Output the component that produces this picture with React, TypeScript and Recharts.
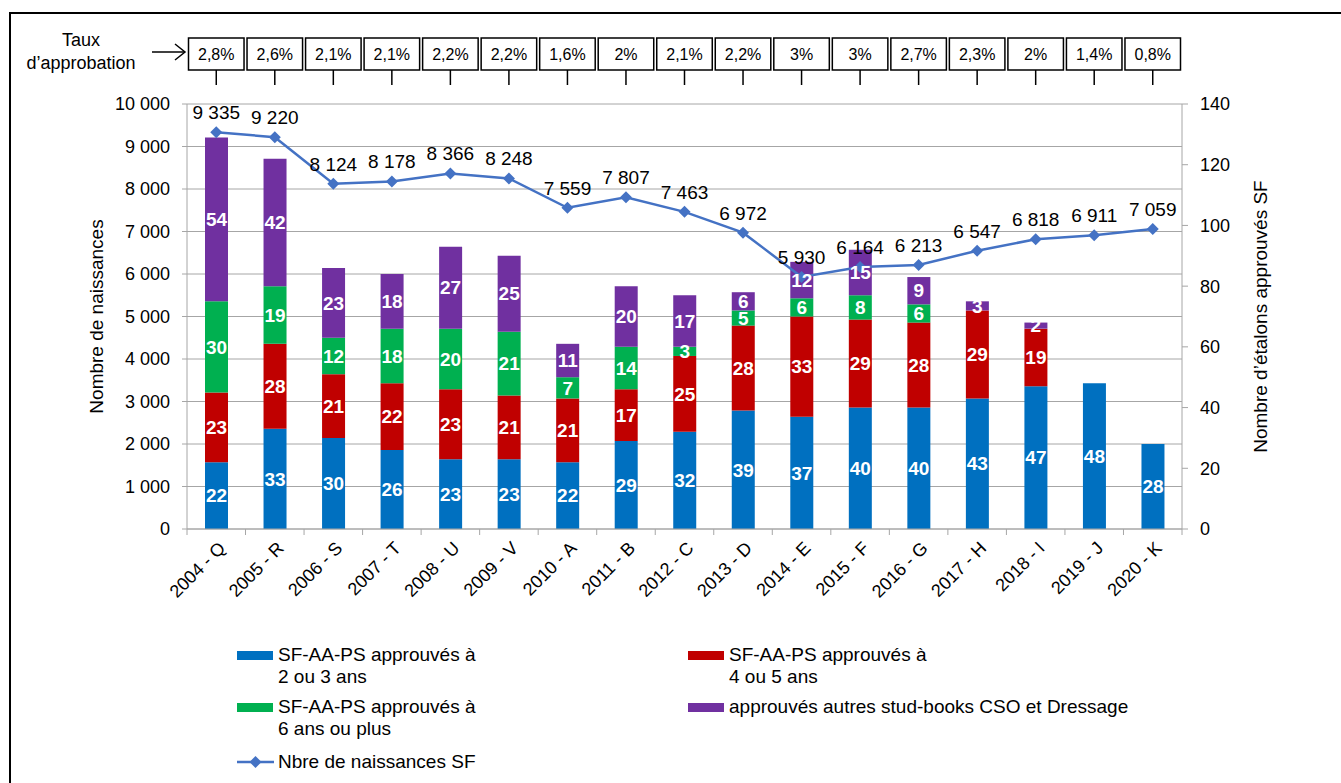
import {
  ComposedChart,
  Bar,
  Line,
  XAxis,
  YAxis,
  CartesianGrid,
  LabelList,
} from "recharts";

const categories = [
  "2004 - Q", "2005 - R", "2006 - S", "2007 - T", "2008 - U", "2009 - V",
  "2010 - A", "2011 - B", "2012 - C", "2013 - D", "2014 - E", "2015 - F",
  "2016 - G", "2017 - H", "2018 - I", "2019 - J", "2020 - K",
];
const tauxApprobation = [
  "2,8%", "2,6%", "2,1%", "2,1%", "2,2%", "2,2%", "1,6%", "2%", "2,1%",
  "2,2%", "3%", "3%", "2,7%", "2,3%", "2%", "1,4%", "0,8%",
];
const naissances = [
  9335, 9220, 8124, 8178, 8366, 8248, 7559, 7807, 7463, 6972, 5930, 6164,
  6213, 6547, 6818, 6911, 7059,
];
const approuves2ou3 = [22, 33, 30, 26, 23, 23, 22, 29, 32, 39, 37, 40, 40, 43, 47, 48, 28];
const approuves4ou5 = [23, 28, 21, 22, 23, 21, 21, 17, 25, 28, 33, 29, 28, 29, 19, 0, 0];
const approuves6plus = [30, 19, 12, 18, 20, 21, 7, 14, 3, 5, 6, 8, 6, 0, 0, 0, 0];
const autresStudBooks = [54, 42, 23, 18, 27, 25, 11, 20, 17, 6, 12, 15, 9, 3, 2, 0, 0];

const leftTicks = [0, 1000, 2000, 3000, 4000, 5000, 6000, 7000, 8000, 9000, 10000];
const rightTicks = [0, 20, 40, 60, 80, 100, 120, 140];

const data = categories.map((cat, i) => ({
  cat,
  naissances: naissances[i],
  a23: approuves2ou3[i],
  a45: approuves4ou5[i],
  a6: approuves6plus[i],
  autres: autresStudBooks[i],
}));

const BLUE = "#0070C0";
const RED = "#C00000";
const GREEN = "#00B050";
const PURPLE = "#7030A0";
const LINE = "#4472C4";
const GRID = "#A6A6A6";
const FONT = "'Liberation Sans', Arial, sans-serif";

const fmt = (v: number) => String(v).replace(/\B(?=(\d{3})+(?!\d))/g, " ");
const hideZero = (v: any) => (v ? v : "");

// boite du taux d'approbation au-dessus de chaque annee
const TopTick = (props: any) => {
  const { x, y, payload } = props;
  const half = payload?.offset || 29;
  const w = half * 2 - 3;
  return (
    <g>
      <rect x={x - w / 2} y={y - 32} width={w} height={32} fill="#fff" stroke="#000" strokeWidth={1.5} />
      <line x1={x} x2={x} y1={y} y2={y + 15} stroke="#000" strokeWidth={1.5} />
      <text x={x} y={y - 16} textAnchor="middle" dominantBaseline="central" fontSize={16} fill="#000">
        {tauxApprobation[payload.index]}
      </text>
    </g>
  );
};

const BottomTick = (props: any) => {
  const { x, y, payload } = props;
  const half = payload?.offset || 29;
  const axisY = y - 2;
  const last = payload.index === categories.length - 1;
  return (
    <g>
      <line x1={x - half} x2={x - half} y1={axisY} y2={axisY + 6} stroke={GRID} />
      {last && <line x1={x + half} x2={x + half} y1={axisY} y2={axisY + 6} stroke={GRID} />}
      <text
        x={x + 6}
        y={y + 14}
        transform={`rotate(-45, ${x + 6}, ${y + 14})`}
        textAnchor="end"
        dominantBaseline="central"
        fontSize={18}
        fill="#000"
      >
        {payload.value}
      </text>
    </g>
  );
};

const Diamond = (props: any) => {
  const { cx, cy } = props;
  if (cx == null || cy == null) return null;
  return <path d={`M${cx},${cy - 6}L${cx + 6},${cy}L${cx},${cy + 6}L${cx - 6},${cy}Z`} fill={LINE} />;
};

const axisTitle = (text: string, dx: number) => (p: any) => {
  const vb = p.viewBox;
  const cx = vb.x + dx;
  const cy = vb.y + vb.height / 2;
  return (
    <text x={cx} y={cy} transform={`rotate(-90, ${cx}, ${cy})`} textAnchor="middle" dominantBaseline="central" fontSize={19} fill="#000">
      {text}
    </text>
  );
};

const legendItems = [
  { color: BLUE, lines: ["SF-AA-PS approuvés à", "2 ou 3 ans"], left: 237, top: 644 },
  { color: RED, lines: ["SF-AA-PS approuvés à", "4 ou 5 ans"], left: 688, top: 644 },
  { color: GREEN, lines: ["SF-AA-PS approuvés à", "6 ans ou plus"], left: 237, top: 696 },
  { color: PURPLE, lines: ["approuvés autres stud-books CSO et Dressage"], left: 688, top: 696 },
];

export default function App() {
  return (
    <div
      style={{
        position: "absolute",
        left: 0,
        top: 0,
        width: 1341,
        height: 783,
        overflow: "hidden",
        background: "#fff",
        fontFamily: FONT,
      }}
    >
      <div style={{ position: "absolute", left: 9, top: 12, width: 1400, height: 900, borderLeft: "2px solid #000", borderTop: "2px solid #000" }} />

      <div style={{ position: "absolute", left: 21, top: 29, width: 120, textAlign: "center", fontSize: 18, lineHeight: "23px", color: "#000" }}>
        Taux
        <br />
        d’approbation
      </div>
      <svg style={{ position: "absolute", left: 150, top: 41 }} width={40} height={22}>
        <line x1={2} y1={11} x2={35} y2={11} stroke="#000" strokeWidth={1.5} />
        <polyline points="25,3 35,11 25,19" fill="none" stroke="#000" strokeWidth={1.5} />
      </svg>

      <div style={{ position: "absolute", left: 0, top: 0 }}>
        <ComposedChart
          width={1341}
          height={783}
          data={data}
          margin={{ top: 34, right: 59, bottom: 154, left: 87 }}
        >
          <CartesianGrid yAxisId="left" vertical={false} stroke={GRID} />
          <XAxis
            xAxisId="top"
            orientation="top"
            dataKey="cat"
            height={70}
            axisLine={false}
            tickSize={34}
            tickMargin={0}
            tickLine={false}
            tick={<TopTick />}
            interval={0}
          />
          <XAxis
            dataKey="cat"
            height={100}
            axisLine={{ stroke: GRID }}
            tickLine={false}
            tickSize={0}
            tickMargin={2}
            tick={<BottomTick />}
            interval={0}
          />
          <YAxis
            yAxisId="left"
            domain={[0, 10000]}
            ticks={leftTicks}
            width={100}
            axisLine={{ stroke: GRID }}
            tickLine={{ stroke: GRID }}
            tickSize={5}
            tickMargin={12}
            tick={{ fill: "#000", fontSize: 18 }}
            tickFormatter={fmt}
            label={axisTitle("Nombre de naissances", 9)}
          />
          <YAxis
            yAxisId="right"
            orientation="right"
            domain={[0, 140]}
            ticks={rightTicks}
            width={100}
            axisLine={{ stroke: GRID }}
            tickLine={{ stroke: GRID }}
            tickSize={6}
            tickMargin={12}
            tick={{ fill: "#000", fontSize: 18 }}
            label={axisTitle("Nombre d’étalons approuvés SF", 78)}
          />
          <Bar yAxisId="right" dataKey="a23" stackId="s" fill={BLUE} barSize={23} isAnimationActive={false}>
            <LabelList dataKey="a23" position="center" fill="#fff" fontSize={19} fontWeight="bold" formatter={hideZero} />
          </Bar>
          <Bar yAxisId="right" dataKey="a45" stackId="s" fill={RED} barSize={23} isAnimationActive={false}>
            <LabelList dataKey="a45" position="center" fill="#fff" fontSize={19} fontWeight="bold" formatter={hideZero} />
          </Bar>
          <Bar yAxisId="right" dataKey="a6" stackId="s" fill={GREEN} barSize={23} isAnimationActive={false}>
            <LabelList dataKey="a6" position="center" fill="#fff" fontSize={19} fontWeight="bold" formatter={hideZero} />
          </Bar>
          <Bar yAxisId="right" dataKey="autres" stackId="s" fill={PURPLE} barSize={23} isAnimationActive={false}>
            <LabelList dataKey="autres" position="center" fill="#fff" fontSize={19} fontWeight="bold" formatter={hideZero} />
          </Bar>
          <Line
            xAxisId="top"
            yAxisId="left"
            dataKey="naissances"
            stroke={LINE}
            strokeWidth={2.5}
            dot={<Diamond />}
            activeDot={false}
            isAnimationActive={false}
          >
            <LabelList dataKey="naissances" position="top" offset={13} fill="#000" fontSize={19} formatter={fmt} />
          </Line>
        </ComposedChart>
      </div>

      {legendItems.map((it) => (
        <div key={it.lines[0] + it.color} style={{ position: "absolute", left: it.left, top: it.top, fontSize: 19, lineHeight: "22px", color: "#000" }}>
          <div style={{ position: "absolute", left: 0, top: 7, width: 36, height: 9, background: it.color }} />
          <div style={{ marginLeft: 41, whiteSpace: "nowrap" }}>
            {it.lines.map((l) => (
              <div key={l}>{l}</div>
            ))}
          </div>
        </div>
      ))}
      <div style={{ position: "absolute", left: 237, top: 751, fontSize: 19, lineHeight: "22px", color: "#000" }}>
        <svg style={{ position: "absolute", left: 0, top: 3 }} width={37} height={16}>
          <line x1={0} y1={8} x2={37} y2={8} stroke={LINE} strokeWidth={2.5} />
          <path d="M18.5,2L24.5,8L18.5,14L12.5,8Z" fill={LINE} />
        </svg>
        <div style={{ marginLeft: 41, whiteSpace: "nowrap" }}>Nbre de naissances SF</div>
      </div>
    </div>
  );
}
